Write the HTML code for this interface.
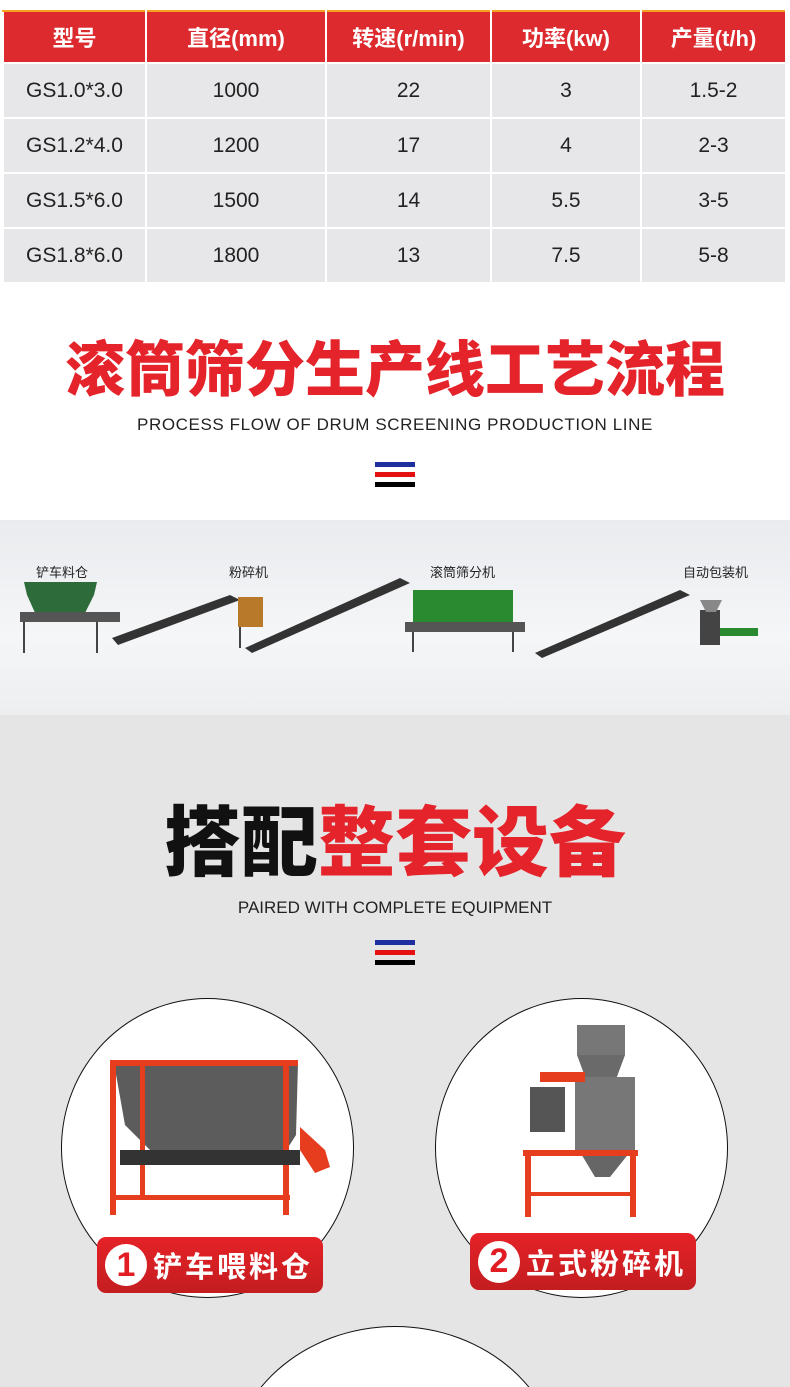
<!DOCTYPE html>
<html style="width:790px;height:1387px;overflow:hidden"><head><meta charset="utf-8"><style>
*{margin:0;padding:0;box-sizing:border-box}
body{width:790px;height:1387px;overflow:hidden;background:#fff;font-family:"Liberation Sans","Noto Sans CJK SC",sans-serif}
#w{position:relative;width:790px;height:1387px;overflow:hidden;background:#fff}
.abs{position:absolute}
table{position:absolute;left:2px;top:10px;border-collapse:collapse;width:785px}
td,th{border:2px solid #fff;text-align:center;font-family:"Liberation Sans","Noto Sans CJK SC",sans-serif;font-size:21px;color:#222}
th{background:#dc2a2e;color:#fff;height:52px;font-weight:bold;font-size:22px;border-top:2px solid #f5a020}
td{background:#e7e7e9;height:55px}
.bars{position:absolute;left:375px;width:40px}
.bars div{height:5px;margin-bottom:5px}
.h1{position:absolute;left:0;width:790px;text-align:center;font-weight:900;line-height:1;white-space:nowrap}
.sub{position:absolute;left:0;width:790px;text-align:center;color:#222;line-height:1;white-space:nowrap}
.circ{position:absolute;background:#fff;border:1.5px solid #111;border-radius:50%}
.lab{position:absolute;background:linear-gradient(#e52227,#c31d20);border-radius:9px;color:#fff;font-weight:bold;font-size:29px;letter-spacing:3px;display:flex;align-items:center}
.num{width:42px;height:42px;border-radius:50%;background:#fff;color:#e11c22;font-size:34px;display:flex;align-items:center;justify-content:center;margin:0 6px 0 8px;letter-spacing:0}
</style></head><body><div id="w">
<table>
<tr><th style="width:143px">型号</th><th style="width:180px">直径(mm)</th><th style="width:165px">转速(r/min)</th><th style="width:150px">功率(kw)</th><th>产量(t/h)</th></tr>
<tr><td>GS1.0*3.0</td><td>1000</td><td>22</td><td>3</td><td>1.5-2</td></tr>
<tr><td>GS1.2*4.0</td><td>1200</td><td>17</td><td>4</td><td>2-3</td></tr>
<tr><td>GS1.5*6.0</td><td>1500</td><td>14</td><td>5.5</td><td>3-5</td></tr>
<tr><td>GS1.8*6.0</td><td>1800</td><td>13</td><td>7.5</td><td>5-8</td></tr>
</table>

<div class="h1" style="top:341px;font-size:60px;color:#e4242a">滚筒筛分生产线工艺流程</div>
<div class="sub" style="top:416px;font-size:17px;letter-spacing:0.6px">PROCESS FLOW OF DRUM SCREENING PRODUCTION LINE</div>
<div class="bars" style="top:462px"><div style="background:#1f2fa0"></div><div style="background:#e51010"></div><div style="background:#000"></div></div>

<div class="abs" style="left:0;top:520px;width:790px;height:195px;background:linear-gradient(#e9ebee,#f5f6f8 60%,#eceef0)">
<svg width="790" height="195" style="position:absolute;left:0;top:0">
<g font-family="Liberation Sans, Noto Sans CJK SC, sans-serif" font-size="13" fill="#222">
<text x="36" y="57">铲车料仓</text><text x="229" y="57">粉碎机</text><text x="430" y="57">滚筒筛分机</text><text x="683" y="57">自动包装机</text></g>
<g stroke="#444" stroke-width="2" fill="none"><line x1="24" y1="95" x2="24" y2="133"/><line x1="97" y1="95" x2="97" y2="133"/><line x1="413" y1="110" x2="413" y2="132"/><line x1="513" y1="110" x2="513" y2="132"/><line x1="240" y1="100" x2="240" y2="128"/></g>
<polygon points="24,62 97,62 94,75 84,95 36,95 27,75" fill="#2e6b3a"/>
<rect x="20" y="92" width="100" height="10" fill="#555"/>
<polygon points="112,118 230,75 240,80 118,125" fill="#333"/>
<rect x="238" y="77" width="25" height="30" fill="#b87a2a"/>
<polygon points="245,128 400,58 410,63 252,133" fill="#333"/>
<rect x="413" y="70" width="100" height="38" fill="#2a8a30"/>
<rect x="405" y="102" width="120" height="10" fill="#555"/>
<polygon points="535,133 680,70 690,75 542,138" fill="#333"/>
<rect x="700" y="90" width="20" height="35" fill="#444"/><rect x="720" y="108" width="38" height="8" fill="#2a8a30"/>
<polygon points="700,80 722,80 716,92 706,92" fill="#888"/>
</svg></div>

<div class="abs" style="left:0;top:715px;width:790px;height:672px;background:#e6e5e6"></div>
<div class="h1" style="top:806px;font-size:77px;color:#111">搭配<span style="color:#e4242a">整套设备</span></div>
<div class="sub" style="top:899px;font-size:17px">PAIRED WITH COMPLETE EQUIPMENT</div>
<div class="bars" style="top:940px"><div style="background:#1f2fa0"></div><div style="background:#e51010"></div><div style="background:#000"></div></div>

<div class="circ" style="left:61px;top:998px;width:293px;height:300px"></div>
<div class="circ" style="left:435px;top:998px;width:293px;height:300px"></div>
<div class="abs" style="left:0;top:1320px;width:790px;height:67px;overflow:hidden">
<div class="circ" style="left:228px;top:6px;width:334px;height:300px"></div></div>

<svg class="abs" style="left:100px;top:1055px" width="240" height="160">
<polygon points="14,8 198,8 196,80 180,105 60,105 25,70" fill="#5c5c5c"/>
<rect x="10" y="5" width="188" height="6" fill="#e63d1e"/>
<rect x="10" y="5" width="6" height="155" fill="#e63d1e"/><rect x="40" y="5" width="5" height="140" fill="#e63d1e"/>
<rect x="183" y="5" width="6" height="155" fill="#e63d1e"/>
<rect x="10" y="140" width="180" height="5" fill="#e63d1e"/>
<rect x="20" y="95" width="180" height="15" fill="#333"/>
<polygon points="200,72 225,95 230,112 215,118 200,95" fill="#e63d1e"/>
</svg>
<svg class="abs" style="left:520px;top:1022px" width="130" height="200">
<rect x="57" y="3" width="48" height="30" fill="#777"/><polygon points="57,33 105,33 95,60 67,60" fill="#6a6a6a"/>
<rect x="55" y="55" width="60" height="75" fill="#777"/><polygon points="60,130 110,130 90,155 75,155" fill="#666"/>
<rect x="20" y="50" width="45" height="10" fill="#e63d1e"/><rect x="10" y="65" width="35" height="45" fill="#555"/>
<rect x="3" y="128" width="115" height="6" fill="#e63d1e"/>
<rect x="5" y="130" width="6" height="65" fill="#e63d1e"/><rect x="110" y="130" width="6" height="65" fill="#e63d1e"/>
<rect x="5" y="170" width="110" height="4" fill="#e63d1e"/>
</svg>

<div class="lab" style="left:97px;top:1237px;width:226px;height:56px"><span class="num">1</span>铲车喂料仓</div>
<div class="lab" style="left:470px;top:1233px;width:226px;height:57px"><span class="num">2</span>立式粉碎机</div>
</div></body></html>
